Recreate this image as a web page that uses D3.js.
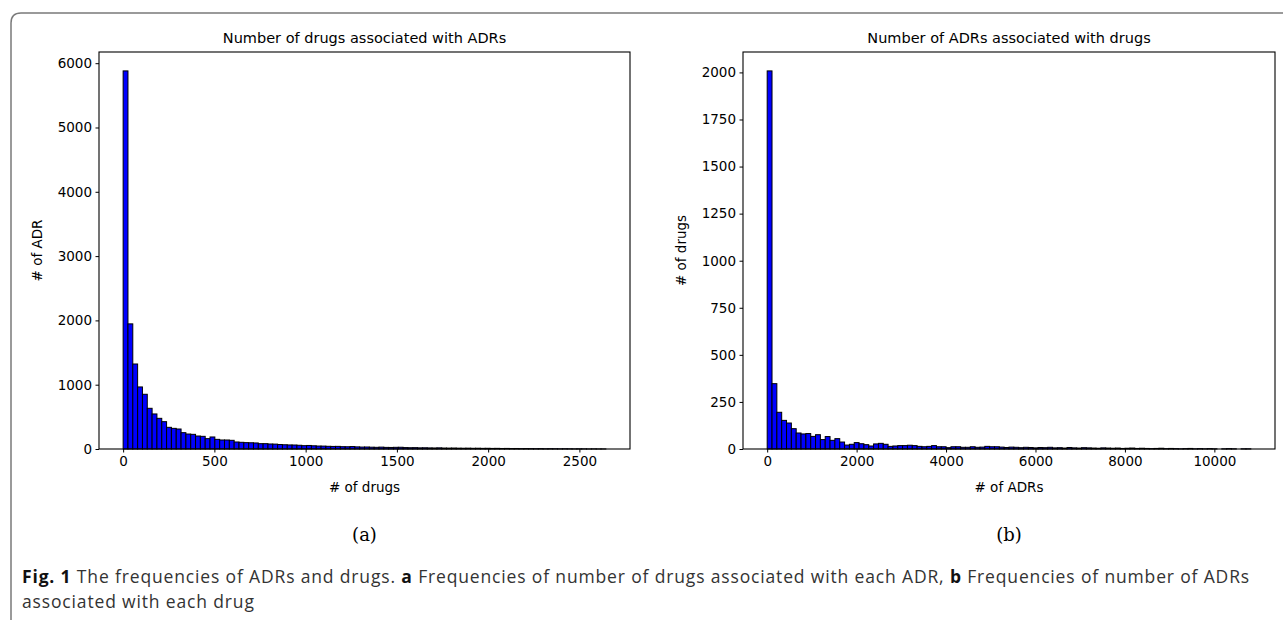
<!DOCTYPE html>
<html>
<head>
<meta charset="utf-8">
<script src="https://cdn.jsdelivr.net/npm/d3@7/dist/d3.min.js"></script>
<style>
  html, body { margin: 0; padding: 0; background: #fff; }
  svg { display: block; }
  .tick text { font-family: "DejaVu Sans", sans-serif; font-size: 13.5px; fill: #000; }
</style>
</head>
<body>
<svg id="chart" width="1283" height="620"></svg>
<script>
// ---- Data ----
// Panel (a): histogram of number of drugs associated with each ADR (100 bins)
const drugsPerADRMax = 2645;          // upper end of the binned range (# of drugs)
const drugsPerADRCounts = [
  5880, 1946, 1322, 965, 851, 633, 545, 477, 425, 337,
  321, 311, 254, 233, 228, 202, 197, 161, 187, 150,
  140, 140, 135, 109, 104, 99, 97, 94, 83, 83,
  78, 76, 70, 66, 63, 62, 58, 52, 55, 50,
  46, 45, 42, 40, 41, 36, 35, 38, 33, 30,
  31, 28, 26, 29, 25, 24, 26, 27, 22, 20,
  21, 18, 19, 17, 16, 18, 15, 14, 15, 13,
  12, 13, 11, 12, 10, 11, 9, 10, 8, 9,
  7, 8, 6, 7, 6, 5, 6, 4, 5, 4,
  3, 4, 3, 2, 3, 2, 1, 2, 1, 1
];
// Panel (b): histogram of number of ADRs associated with each drug (100 bins)
const adrsPerDrugMax = 10815;         // upper end of the binned range (# of ADRs)
const adrsPerDrugCounts = [
  2008, 347, 195, 152, 138, 108, 85, 80, 82, 67,
  76, 50, 66, 46, 55, 37, 21, 25, 34, 28,
  23, 16, 27, 30, 25, 14, 16, 18, 18, 20,
  18, 14, 12, 14, 18, 12, 12, 7, 12, 12,
  9, 9, 12, 9, 10, 14, 12, 12, 10, 8,
  10, 9, 7, 9, 8, 6, 8, 7, 9, 6,
  7, 5, 8, 6, 5, 7, 6, 5, 4, 6,
  5, 4, 5, 3, 4, 5, 3, 4, 3, 2,
  3, 4, 2, 3, 2, 1, 2, 3, 1, 2,
  1, 2, 1, 0, 1, 2, 1, 0, 1, 1
];
const xTicksA = [0, 500, 1000, 1500, 2000, 2500];
const yTicksA = [0, 1000, 2000, 3000, 4000, 5000, 6000];
const xTicksB = [0, 2000, 4000, 6000, 8000, 10000];
const yTicksB = [0, 250, 500, 750, 1000, 1250, 1500, 1750, 2000];

const titleA = "Number of drugs associated with ADRs";
const titleB = "Number of ADRs associated with drugs";
const xLabelA = "# of drugs", yLabelA = "# of ADR";
const xLabelB = "# of ADRs",  yLabelB = "# of drugs";
const captionLine1 = [
  {t: "Fig. 1", b: true}, {t: " The frequencies of ADRs and drugs. ", b: false},
  {t: "a", b: true}, {t: " Frequencies of number of drugs associated with each ADR, ", b: false},
  {t: "b", b: true}, {t: " Frequencies of number of ADRs", b: false}
];
const captionLine2 = "associated with each drug";

// ---- Drawing ----
const svg = d3.select("#chart");

// journal figure frame (top + left with rounded corner)
svg.append("path")
  .attr("d", "M11,620 L11,23 Q11,13 21,13 L1283,13")
  .attr("fill", "none").attr("stroke", "#7a7a7a").attr("stroke-width", 1.5);

function panel(opts) {
  const {x0, x1, y0, y1, counts, maxVal, xTicks, yTicks, title, xLabel, yLabel, sub, yLabelX} = opts;
  const n = counts.length;
  const bw = maxVal / n;
  const bins = counts.map((c, i) => ({x0: i * bw, x1: (i + 1) * bw, c}));
  const x = d3.scaleLinear().domain([-0.05 * maxVal, 1.05 * maxVal]).range([x0, x1]);
  const y = d3.scaleLinear().domain([0, 1.05 * d3.max(counts)]).range([y1, y0]);
  const g = svg.append("g");

  g.append("g").selectAll("rect").data(bins.filter(d => d.c > 0)).join("rect")
    .attr("x", d => x(d.x0))
    .attr("y", d => y(d.c))
    .attr("width", d => x(d.x1) - x(d.x0))
    .attr("height", d => y(0) - y(d.c))
    .attr("fill", "#0000ff")
    .attr("stroke", "#000")
    .attr("stroke-width", 1);

  // spines
  g.append("rect").attr("x", x0).attr("y", y0).attr("width", x1 - x0).attr("height", y1 - y0)
    .attr("fill", "none").attr("stroke", "#000").attr("stroke-width", 1.1);

  const xa = g.append("g").attr("transform", `translate(0,${y1})`)
    .call(d3.axisBottom(x).tickValues(xTicks).tickFormat(d3.format("d")).tickSize(3.5).tickPadding(3.5));
  xa.select(".domain").remove();
  xa.selectAll(".tick line").attr("stroke", "#000").attr("stroke-width", 1);

  const ya = g.append("g").attr("transform", `translate(${x0},0)`)
    .call(d3.axisLeft(y).tickValues(yTicks).tickFormat(d3.format("d")).tickSize(3.5).tickPadding(3.5));
  ya.select(".domain").remove();
  ya.selectAll(".tick line").attr("stroke", "#000").attr("stroke-width", 1);

  g.append("text").attr("x", (x0 + x1) / 2).attr("y", y0 - 9)
    .attr("text-anchor", "middle")
    .style("font-family", "DejaVu Sans, sans-serif").style("font-size", "14.5px")
    .text(title);

  g.append("text").attr("x", (x0 + x1) / 2).attr("y", y1 + 43)
    .attr("text-anchor", "middle")
    .style("font-family", "DejaVu Sans, sans-serif").style("font-size", "13.5px")
    .text(xLabel);

  g.append("text")
    .attr("transform", `translate(${yLabelX},${(y0 + y1) / 2}) rotate(-90)`)
    .attr("text-anchor", "middle")
    .style("font-family", "DejaVu Sans, sans-serif").style("font-size", "13.5px")
    .text(yLabel);

  g.append("text").attr("x", (x0 + x1) / 2).attr("y", 541)
    .attr("text-anchor", "middle")
    .style("font-family", "DejaVu Serif, serif").style("font-size", "18px")
    .text(sub);
}

panel({x0: 99, x1: 630, y0: 52, y1: 449, counts: drugsPerADRCounts, maxVal: drugsPerADRMax,
  xTicks: xTicksA, yTicks: yTicksA, title: titleA, xLabel: xLabelA, yLabel: yLabelA, sub: "(a)", yLabelX: 42});
panel({x0: 743, x1: 1275, y0: 52, y1: 449, counts: adrsPerDrugCounts, maxVal: adrsPerDrugMax,
  xTicks: xTicksB, yTicks: yTicksB, title: titleB, xLabel: xLabelB, yLabel: yLabelB, sub: "(b)", yLabelX: 686});

// caption
const capFont = "Open Sans, sans-serif";
const capSize = 17.5;
const cap = svg.append("text").attr("x", 22).attr("y", 583)
  .style("font-family", capFont).style("font-size", capSize + "px").attr("fill", "#333");
captionLine1.forEach(s => cap.append("tspan").text(s.t).style("font-weight", s.b ? "700" : "400")
  .attr("fill", s.b ? "#111" : "#333"));
const cap2 = svg.append("text").attr("x", 22).attr("y", 608)
  .style("font-family", capFont).style("font-size", capSize + "px").attr("fill", "#333")
  .text(captionLine2);
// widen letter spacing so line 1 spans the width seen in the reference (ends near x = 1250)
const w = cap.node().getComputedTextLength();
const nChars = captionLine1.map(s => s.t).join("").length;
const ls = Math.max(0, (1228 - w) / nChars);
cap.style("letter-spacing", ls + "px");
cap2.style("letter-spacing", ls + "px");
</script>
</body>
</html>
